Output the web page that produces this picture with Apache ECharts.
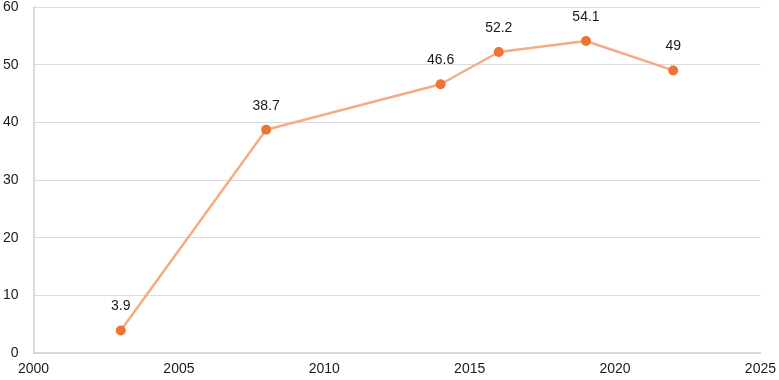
<!DOCTYPE html>
<html>
<head>
<meta charset="utf-8">
<script src="https://cdn.jsdelivr.net/npm/echarts@6/dist/echarts.min.js"></script>
<style>
  html, body { margin: 0; padding: 0; background: #fff; }
  #chart { width: 779px; height: 380px; }
</style>
</head>
<body>
<div id="chart"></div>
<script>
const years = [2003, 2008, 2014, 2016, 2019, 2022]
const values = [3.9, 38.7, 46.6, 52.2, 54.1, 49]

const chart = echarts.init(document.getElementById('chart'))

chart.setOption({
  animation: false,
  textStyle: { fontFamily: 'Liberation Sans, Arial, sans-serif' },
  grid: { left: 31, right: 16, top: 6, bottom: 27 },
  xAxis: {
    type: 'value',
    min: 2000,
    max: 2025,
    interval: 5,
    axisLine: { show: true, lineStyle: { color: '#d0d0d0', width: 1.5 } },
    axisTick: { show: false },
    splitLine: { show: false },
    axisLabel: { color: '#1a1a1a', fontSize: 14, margin: 9, formatter: v => String(v) }
  },
  yAxis: {
    type: 'value',
    min: 0,
    max: 60,
    interval: 10,
    axisLine: { show: true, lineStyle: { color: '#d0d0d0', width: 1.5 } },
    axisTick: { show: false },
    splitLine: { lineStyle: { color: '#dcdcdc', width: 1.2 } },
    axisLabel: { color: '#1a1a1a', fontSize: 14, margin: 15 }
  },
  series: [{
    type: 'line',
    data: years.map((y, i) => [y, values[i]]),
    symbol: 'circle',
    symbolSize: 10,
    lineStyle: { color: '#f4ac83', width: 2.5 },
    itemStyle: { color: '#ec7434' },
    label: {
      show: true,
      position: 'top',
      distance: 12,
      color: '#1a1a1a',
      fontSize: 14
    }
  }]
})
</script>
</body>
</html>
